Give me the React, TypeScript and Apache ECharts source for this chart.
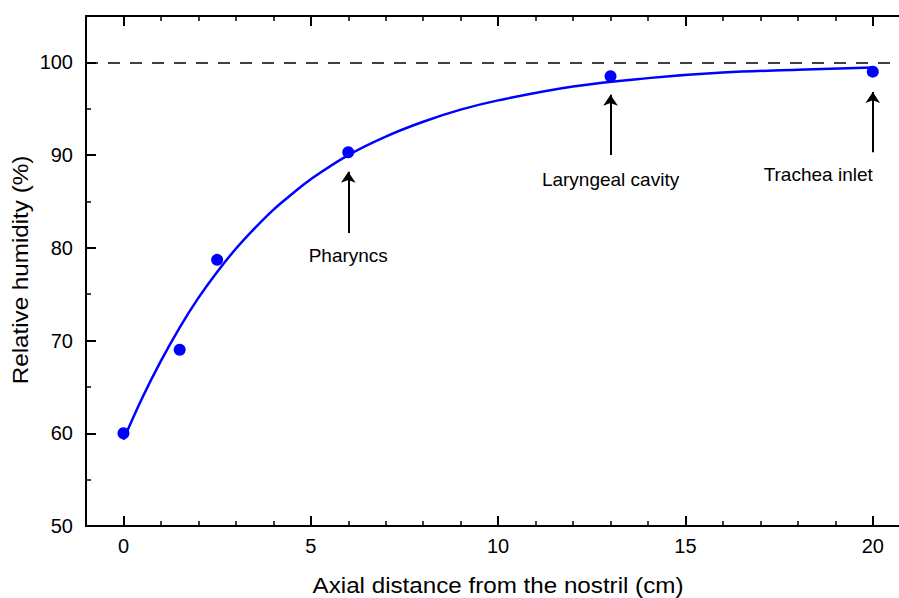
import React, { useEffect, useRef } from "react";
import * as echarts from "echarts";

// Measured points (axial distance cm, relative humidity %)
const measuredX = [0, 1.5, 2.5, 6, 13, 20];
const measuredY = [60, 69, 78.7, 90.3, 98.5, 99];

// Fitted curve, values
const curveX = [0, 0.5, 1, 1.5, 2, 2.5, 3, 3.5, 4, 4.5, 5, 6, 7, 8, 9, 10, 12, 14, 16, 18, 20];
const curveY = [59.3, 63.8, 67.8, 71.4, 74.6, 77.4, 79.9, 82.1, 84.1, 85.8, 87.4, 90.0, 92.0, 93.6, 94.9, 95.9, 97.4, 98.3, 98.9, 99.2, 99.45];

// Tick values and labels
const xMajorTicks = [0, 5, 10, 15, 20];
const xMinorTicks = [1, 2, 3, 4, 6, 7, 8, 9, 11, 12, 13, 14, 16, 17, 18, 19];

// Annotations
const annoNames = ["Pharyncs", "Laryngeal cavity", "Trachea inlet"];
const annoX = [6, 13, 20];
const arrowFrom = [81.6, 90.0, 90.3];
const arrowTo = [88.2, 96.5, 96.8];
const labelY = [79.2, 87.4, 87.9];

const saturation = 100;

const FONT = "'Liberation Sans', Arial, Helvetica, sans-serif";

export default function App() {
  const ref = useRef<HTMLDivElement>(null);
  useEffect(() => {
    if (!ref.current) return;
    const chart = echarts.init(ref.current, null, { renderer: "svg" });
    const base = {
      type: "value",
      min: -1,
      max: 20.7,
      splitLine: { show: false },
      axisLabel: { show: false },
    };
    const majorTick = {
      show: true,
      inside: true,
      length: 10,
      customValues: xMajorTicks,
      lineStyle: { color: "#000", width: 2 },
    };
    const minorTick = {
      show: true,
      inside: true,
      length: 5,
      customValues: xMinorTicks,
      lineStyle: { color: "#000", width: 1.5 },
    };
    chart.setOption({
      animation: false,
      backgroundColor: "#fff",
      grid: { left: 86, right: 0, top: 16, bottom: 72, containLabel: false },
      xAxis: [
        {
          ...base,
          position: "bottom",
          axisLine: { show: true, onZero: false, lineStyle: { color: "#000", width: 2 } },
          axisTick: majorTick,
          axisLabel: {
            show: true,
            margin: 10,
            fontSize: 20,
            color: "#000",
            fontFamily: FONT,
            customValues: xMajorTicks,
          },
        },
        {
          ...base,
          position: "bottom",
          axisLine: { show: false, onZero: false },
          axisTick: minorTick,
        },
        {
          ...base,
          position: "top",
          axisLine: { show: true, onZero: false, lineStyle: { color: "#000", width: 2 } },
          axisTick: majorTick,
        },
        {
          ...base,
          position: "top",
          axisLine: { show: false, onZero: false },
          axisTick: minorTick,
        },
      ],
      yAxis: {
        type: "value",
        min: 50,
        max: 105,
        interval: 10,
        axisLine: { show: true, onZero: false, lineStyle: { color: "#000", width: 2 } },
        axisTick: { show: true, inside: true, length: 10, lineStyle: { color: "#000", width: 2 } },
        minorTick: { show: true, splitNumber: 2, length: 5, lineStyle: { color: "#000", width: 1.5 } },
        splitLine: { show: false },
        axisLabel: {
          margin: 13,
          fontSize: 20,
          color: "#000",
          fontFamily: FONT,
          showMaxLabel: false,
        },
      },
      graphic: [
        {
          type: "text",
          x: 498,
          y: 585,
          scaleX: 1.1,
          style: {
            text: "Axial distance from the nostril (cm)",
            font: `22px ${FONT}`,
            fill: "#000",
            align: "center",
            verticalAlign: "middle",
          },
        },
        {
          type: "text",
          x: 20,
          y: 270,
          rotation: Math.PI / 2,
          scaleX: 1.1,
          style: {
            text: "Relative humidity (%)",
            font: `22px ${FONT}`,
            fill: "#000",
            align: "center",
            verticalAlign: "middle",
          },
        },
      ],
      series: [
        {
          type: "line",
          xAxisIndex: 0,
          data: curveX.map((x, i) => [x, curveY[i]]),
          smooth: 0.4,
          showSymbol: false,
          lineStyle: { color: "#0000ff", width: 2.5 },
          z: 3,
          markLine: {
            silent: true,
            symbol: ["none", "none"],
            label: { show: false },
            lineStyle: { color: "#000", width: 1.5, type: [12, 10] },
            data: [{ yAxis: saturation }],
          },
        },
        {
          type: "scatter",
          xAxisIndex: 0,
          data: measuredX.map((x, i) => [x, measuredY[i]]),
          symbol: "circle",
          symbolSize: 12,
          itemStyle: { color: "#0000ff", opacity: 1 },
          z: 4,
        },
        {
          type: "scatter",
          xAxisIndex: 0,
          symbolSize: 0,
          data: annoNames.map((n, i) => ({ name: n, value: [annoX[i], labelY[i]] })),
          label: {
            show: true,
            position: "inside",
            formatter: (p: any) => p.name,
            fontSize: 19,
            fontFamily: FONT,
            color: "#000",
            opacity: 1,
            align: "center",
            verticalAlign: "middle",
          },
          itemStyle: { opacity: 1 },
          labelLayout: (p: any) => (p.dataIndex === 2 ? { align: "right", x: p.rect.x } : {}),
          markLine: {
            silent: true,
            symbol: ["none", "arrow"],
            symbolSize: 11,
            label: { show: false },
            lineStyle: { color: "#000", width: 2, type: "solid", opacity: 1 },
            data: annoX.map((x, i) => [
              { coord: [x, arrowFrom[i]] },
              { coord: [x, arrowTo[i]] },
            ]),
          },
        },
      ],
    });
    return () => chart.dispose();
  }, []);
  return (
    <div
      ref={ref}
      style={{ position: "fixed", left: 0, top: 0, width: 899, height: 598 }}
    />
  );
}
